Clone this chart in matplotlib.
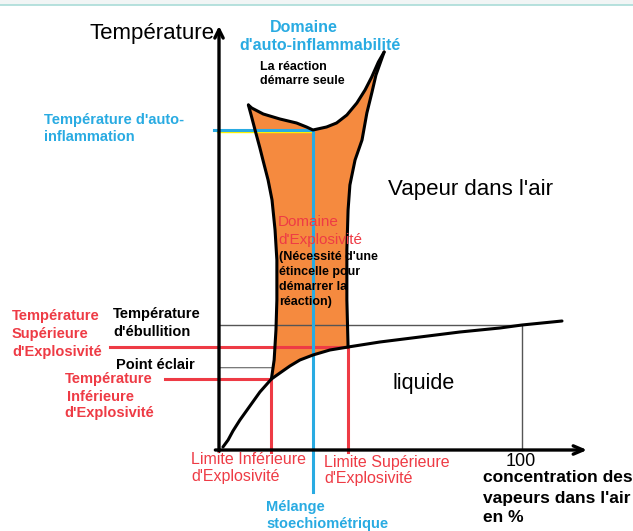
import numpy as np
import matplotlib
matplotlib.use('Agg')
from matplotlib import pyplot as plt

plt.rcParams['font.family'] = ['Liberation Sans', 'DejaVu Sans']

# concentration (%) / temperature (arbitrary units) of the sketch
liq_c = [1.3, 3.0, 4.6, 6.9, 10.2, 13.5, 17.3, 20.1, 23.4, 26.7, 31.0, 36.6, 42.6,
         53.1, 66.3, 79.5, 92.7, 100.0, 113.2]
liq_T = [3, 10, 19, 30, 44, 58, 71, 77, 84, 90, 95, 100, 103,
         108, 113, 118, 122, 125, 129]

top_c = [9.7, 10.8, 14.6, 20.1, 25.6, 28.9, 31.0, 35.5, 38.8, 42.2, 45.5, 48.2,
         50.4, 52.6, 54.5]
top_T = [345, 342, 336, 331, 327, 323, 320, 323, 327, 335, 347, 360, 373, 388, 398]

left_c = [9.7, 10.6, 11.9, 13.5, 14.5, 16.2, 17.5, 18.5, 19.1, 19.1, 18.8, 18.2, 17.3]
left_T = [345, 335, 320, 302, 290, 270, 250, 220, 190, 150, 120, 90, 71]

right_c = [54.5, 51.8, 50.5, 48.8, 47.2, 44.9, 43.2, 42.6, 42.2, 42.2, 42.6]
right_T = [398, 375, 358, 337, 310, 290, 265, 240, 200, 150, 103]

LIE, LSE, STOECH = 17.3, 42.6, 31.0
T_INF, T_SUP, T_ECLAIR, T_EB, T_AI = 71, 103, 82, 125, 320

BLUE = '#29abe2'
RED = '#ee3b45'
ORANGE = '#f58a3f'

fig = plt.figure(figsize=(6.33, 5.31), dpi=100)
ax = fig.add_axes([0, 0, 1, 1])
ax.set_xlim(-219 / 3.03, (633 - 219) / 3.03)
ax.set_ylim(-81, 450)
ax.axis('off')

# header strip of the screenshot
ax.axhspan(445, 450, color='#f1f5f5', lw=0)
ax.axhline(445, color='#a9dcd8', lw=1.2)

# orange explosive / auto-ignition zone
lc, lT = np.array(liq_c), np.array(liq_T)
sel = (lc >= LIE) & (lc <= LSE)
poly_c = np.concatenate([top_c, right_c, lc[sel][::-1], left_c[::-1]])
poly_T = np.concatenate([top_T, right_T, lT[sel][::-1], left_T[::-1]])
ax.fill(poly_c, poly_T, color=ORANGE, lw=0, zorder=1)

# thin gray guides
ax.plot([0, 100, 100], [T_EB, T_EB, 0], color='#555555', lw=1, zorder=2)
ax.plot([0, LIE], [T_ECLAIR, T_ECLAIR], color='#777777', lw=1.4, zorder=2)
ax.plot([0.3, LIE - 0.3], [T_ECLAIR, T_ECLAIR], color='white', lw=0.5, zorder=2)

# black boundaries
for xs, ys in [(liq_c, liq_T), (top_c, top_T), (left_c, left_T), (right_c, right_T)]:
    ax.plot(xs, ys, color='black', lw=2.2, zorder=4,
            solid_joinstyle='round', solid_capstyle='round')

# red limits
ax.plot([-36.0, LSE, LSE], [T_SUP, T_SUP, -2], color=RED, lw=2.2, zorder=3)
ax.plot([-17.8, LIE, LIE], [T_INF, T_INF, -2], color=RED, lw=2.2, zorder=3)

# blue stoechiometric / auto-ignition
ax.plot([-0.7, STOECH], [T_AI - 1.5, T_AI - 1.5], color='#fff200', lw=1, zorder=3)
ax.plot([-1.5, STOECH, STOECH], [T_AI, T_AI, -42], color=BLUE, lw=2.2, zorder=3)

# axes arrows
ax.annotate('', xy=(0, 424), xytext=(0, -1.5),
            arrowprops=dict(arrowstyle='->,head_length=0.6,head_width=0.3',
                            lw=2.4, color='black', shrinkA=0, shrinkB=0), zorder=5)
ax.annotate('', xy=(121.5, 0), xytext=(-1.2, 0),
            arrowprops=dict(arrowstyle='->,head_length=0.7,head_width=0.3',
                            lw=2.4, color='black', shrinkA=0, shrinkB=0), zorder=5)


def label(px, py, lines, dy=17, **kw):
    for i, s in enumerate(lines):
        fig.text(px / 633, 1 - (py + i * dy) / 531, s, ha='left', va='center', **kw)


label(89, 33, ['Température'], fontsize=16)
label(270, 27, ['Domaine'], fontsize=11.5, weight='bold', color=BLUE)
label(239, 46, ["d'auto-inflammabilité"], fontsize=11.5, weight='bold', color=BLUE)
label(260, 67, ['La réaction', 'démarre seule'], dy=14.5, fontsize=9, weight='bold')
label(44, 120, ["Température d'auto-", 'inflammation'], dy=17.5, fontsize=10.5,
      weight='bold', color=BLUE)
label(388, 190, ["Vapeur dans l'air"], fontsize=16)
label(278, 222, ['Domaine', "d'Explosivité"], dy=18, fontsize=11, color=RED)
label(279, 257, ["(Nécessité d'une", 'étincelle pour', 'démarrer la', 'réaction)'],
      dy=15, fontsize=9, weight='bold')
label(12, 316, ['Température', 'Supérieure', "d'Explosivité"], dy=18, fontsize=10.5,
      weight='bold', color=RED)
label(113, 314, ['Température', "d'ébullition"], dy=17.5, fontsize=10.5, weight='bold')
label(116, 365, ['Point éclair'], fontsize=10.5, weight='bold')
label(65, 379, ['Température'], fontsize=10.5, weight='bold', color=RED)
label(67, 397, ['Inférieure'], fontsize=10.5, weight='bold', color=RED)
label(64, 413, ["d'Explosivité"], fontsize=10.5, weight='bold', color=RED)
label(392, 383, ['liquide'], fontsize=15.5)
label(191, 460, ['Limite Inférieure', "d'Explosivité"], dy=16.5, fontsize=11.5, color=RED)
label(324, 462, ['Limite Supérieure', "d'Explosivité"], dy=16.5, fontsize=11.5, color=RED)
label(506, 462, ['100'], fontsize=13)
label(483, 478, ['concentration des', "vapeurs dans l'air", 'en %'], dy=20,
      fontsize=12.5, weight='bold')
label(266, 507, ['Mélange', 'stoechiométrique'], dy=17, fontsize=10.5,
      weight='bold', color=BLUE)

fig.savefig('out.png', dpi=100)
